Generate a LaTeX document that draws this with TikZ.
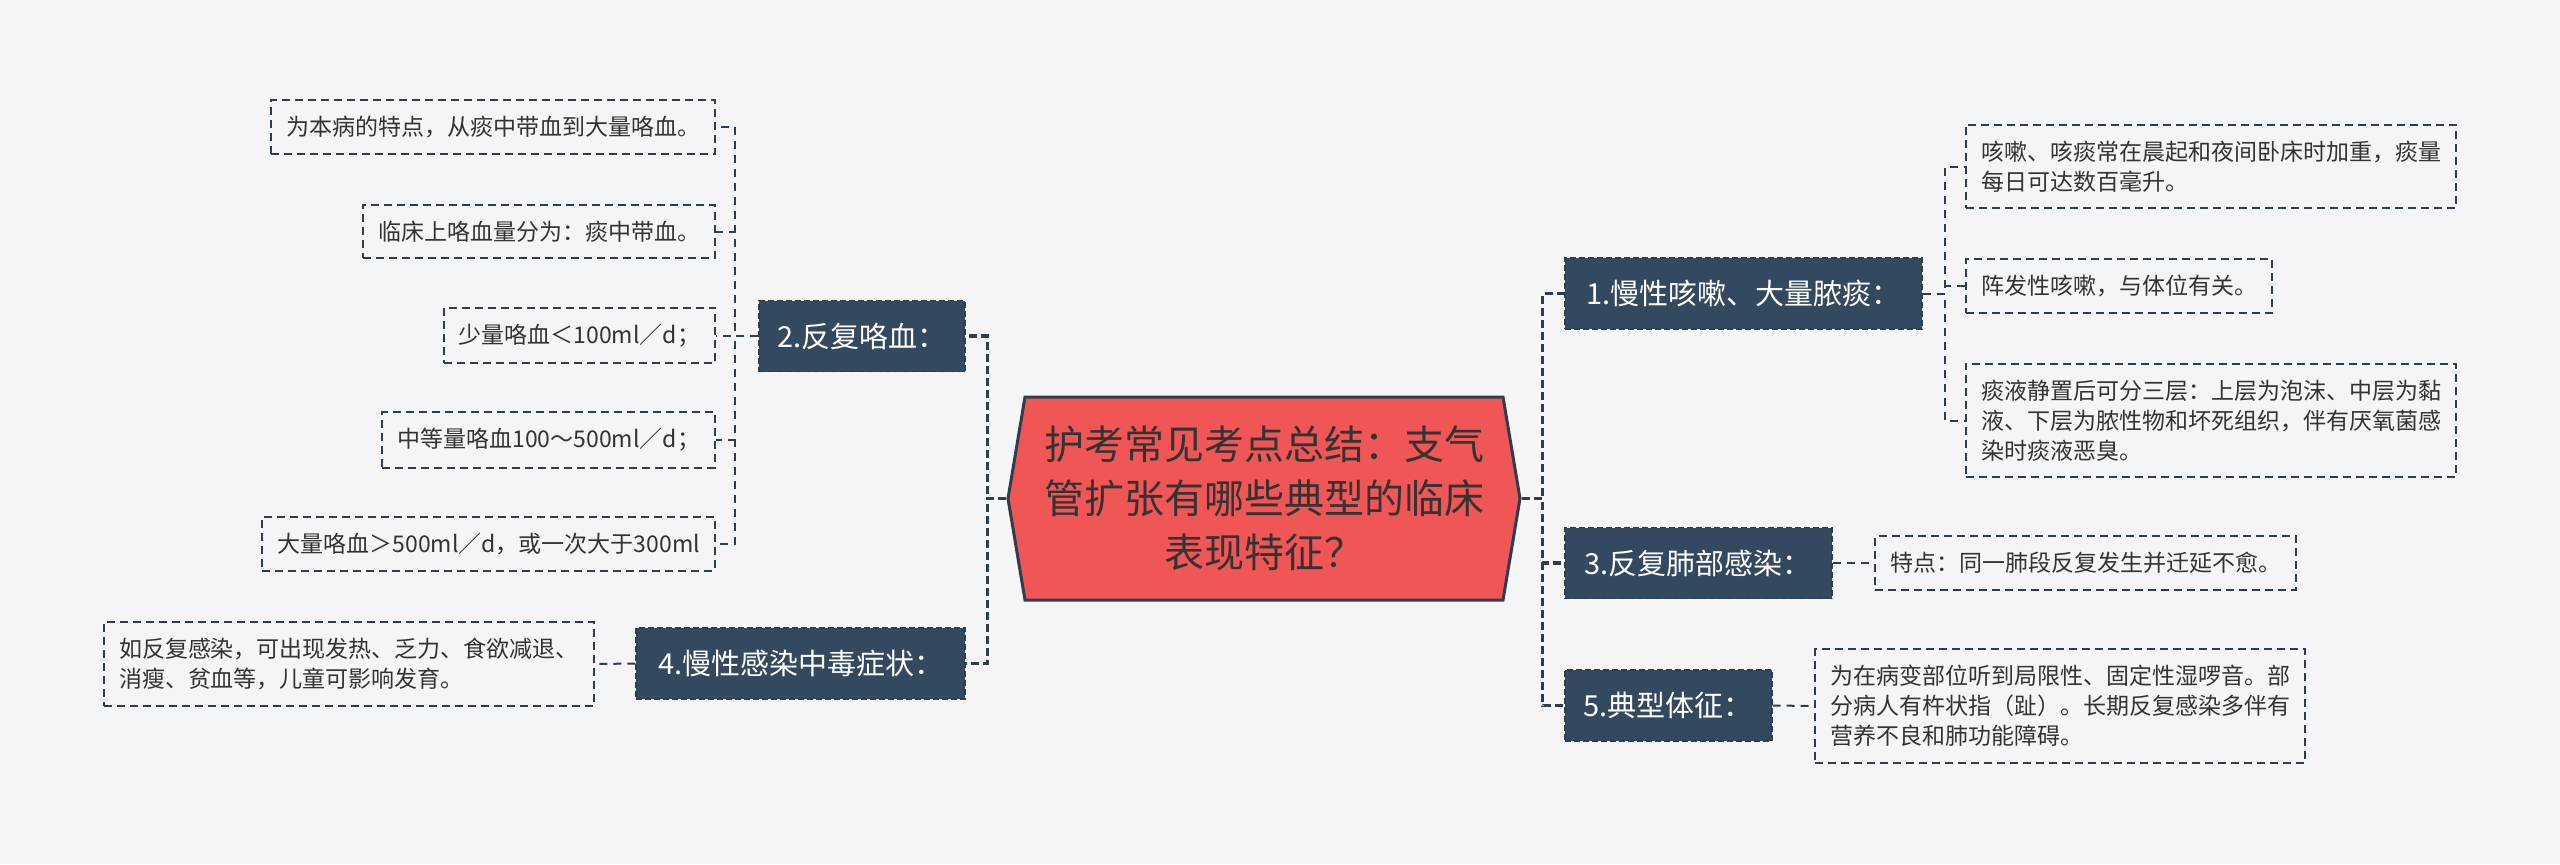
\documentclass[tikz,border=0pt]{standalone}
\usepackage{fontspec}
\setmainfont{Noto Sans CJK SC}
\usetikzlibrary{shapes.symbols}
\definecolor{bgcol}{HTML}{F5F5F5}
\definecolor{navy}{HTML}{33495F}
\definecolor{navyline}{HTML}{2C3E50}
\definecolor{rootred}{HTML}{F05656}
\definecolor{inkgray}{HTML}{333333}
\begin{document}
\begin{tikzpicture}[x=0.5pt, y=-0.5pt,
 root/.style={shape=signal, signal to=west and east, signal pointer angle=161, draw=navyline, line width=1.5pt, fill=rootred, text=inkgray, align=center, font=\fontsize{20}{27}\selectfont, minimum width=256pt, minimum height=101.5pt, inner sep=0pt},
 topic/.style={draw=navyline, fill=navy, text=white, line width=0.8pt, dash pattern=on 3pt off 1.5pt, font=\fontsize{14.5}{18}\selectfont, minimum height=35.5pt, inner xsep=8pt},
 leaf/.style={draw=navyline, text=inkgray, line width=1pt, dash pattern=on 4pt off 2.5pt, align=left, font=\fontsize{11.5}{15}\selectfont, inner xsep=7.5pt, inner ysep=8pt},
 trunk/.style={draw=navyline, line width=1.6pt, dash pattern=on 4pt off 2pt},
 twig/.style={draw=navyline, line width=1pt, dash pattern=on 4pt off 3pt}]
\fill[bgcol] (0,0) rectangle (2560,864);
\node[root] (root) at (1264,498.5) {护考常见考点总结：支气\\管扩张有哪些典型的临床\\表现特征？};
\node[topic, minimum width=178.5pt, anchor=west] (cough) at (1564,293.5) {1.慢性咳嗽、大量脓痰：};
\node[topic, minimum width=103pt, anchor=east] (hemo) at (966,336) {2.反复咯血：};
\node[topic, minimum width=133.5pt, anchor=west] (lung) at (1564,563) {3.反复肺部感染：};
\node[topic, minimum width=164.5pt, anchor=east] (tox) at (966,663.5) {4.慢性感染中毒症状：};
\node[topic, minimum width=103.5pt, anchor=west] (sign) at (1564,705.5) {5.典型体征：};
\node[leaf, anchor=east] (hemoA) at (716,127) {为本病的特点，从痰中带血到大量咯血。};
\node[leaf, anchor=east] (hemoB) at (716,231.5) {临床上咯血量分为：痰中带血。};
\node[leaf, anchor=east] (hemoC) at (716,335.5) {少量咯血＜100ml／d；};
\node[leaf, anchor=east] (hemoD) at (716,440) {中等量咯血100～500ml／d；};
\node[leaf, anchor=east] (hemoE) at (716,544) {大量咯血＞500ml／d，或一次大于300ml};
\node[leaf, anchor=east] (toxA) at (595,664) {如反复感染，可出现发热、乏力、食欲减退、\\消瘦、贫血等，儿童可影响发育。};
\node[leaf, anchor=west] (coughA) at (1965,166.5) {咳嗽、咳痰常在晨起和夜间卧床时加重，痰量\\每日可达数百毫升。};
\node[leaf, anchor=west] (coughB) at (1965,286) {阵发性咳嗽，与体位有关。};
\node[leaf, anchor=west] (coughC) at (1965,420.5) {痰液静置后可分三层：上层为泡沫、中层为黏\\液、下层为脓性物和坏死组织，伴有厌氧菌感\\染时痰液恶臭。};
\node[leaf, anchor=west] (lungA) at (1874,563) {特点：同一肺段反复发生并迁延不愈。};
\node[leaf, anchor=west] (signA) at (1814,706) {为在病变部位听到局限性、固定性湿啰音。部\\分病人有杵状指（趾）。长期反复感染多伴有\\营养不良和肺功能障碍。};
\draw[trunk] (root.west) -- ++(-9.5pt,0) |- (hemo.east);
\draw[trunk] (root.west) -- ++(-9.5pt,0) |- (tox.east);
\draw[trunk] (root.east) -- ++(10.5pt,0) |- (cough.west);
\draw[trunk] (root.east) -- ++(10.5pt,0) |- (lung.west);
\draw[trunk] (root.east) -- ++(10.5pt,0) |- (sign.west);
\draw[twig] (hemo.west) -- ++(-11.5pt,0) |- (hemoA.east);
\draw[twig] (hemo.west) -- ++(-11.5pt,0) |- (hemoB.east);
\draw[twig] (hemo.west) -- ++(-11.5pt,0) |- (hemoC.east);
\draw[twig] (hemo.west) -- ++(-11.5pt,0) |- (hemoD.east);
\draw[twig] (hemo.west) -- ++(-11.5pt,0) |- (hemoE.east);
\draw[twig] (tox.west) -- (toxA.east);
\draw[twig] (cough.east) -- ++(11pt,0) |- (coughA.west);
\draw[twig] (cough.east) -- ++(11pt,0) |- (coughB.west);
\draw[twig] (cough.east) -- ++(11pt,0) |- (coughC.west);
\draw[twig] (lung.east) -- (lungA.west);
\draw[twig] (sign.east) -- (signA.west);
\end{tikzpicture}
\end{document}
